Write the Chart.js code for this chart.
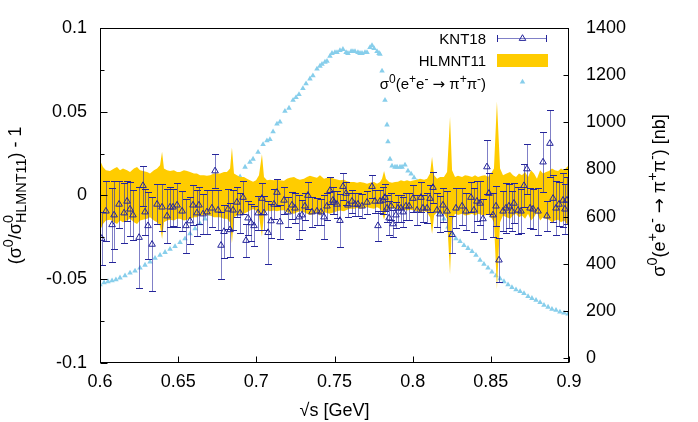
<!DOCTYPE html>
<html><head><meta charset="utf-8">
<script src="https://cdn.jsdelivr.net/npm/chart.js@4.4.1/dist/chart.umd.min.js"></script>
<style>html,body{margin:0;padding:0;background:#fff}canvas{display:block}</style>
</head><body>
<canvas id="c" width="698" height="422"></canvas>
<script>
// ---- KNT18 ratio points ----
const kntX = [0.6011,0.6038,0.6077,0.6090,0.6122,0.6154,0.6173,0.6192,0.6211,0.6250,0.6275,0.6288,0.6307,0.6333,0.6365,0.6397,0.6429,0.6448,0.6467,0.6493,0.6525,0.6550,0.6576,0.6595,0.6620,0.6633,0.6659,0.6684,0.6716,0.6736,0.6755,0.6774,0.6793,0.6819,0.6832,0.6851,0.6876,0.6896,0.6915,0.6934,0.6947,0.6966,0.6985,0.7011,0.7036,0.7049,0.7075,0.7094,0.7113,0.7132,0.7151,0.7177,0.7203,0.7228,0.7247,0.7273,0.7292,0.7311,0.7330,0.7356,0.7388,0.7414,0.7433,0.7452,0.7471,0.7490,0.7497,0.7516,0.7535,0.7554,0.7574,0.7586,0.7612,0.7631,0.7650,0.7676,0.7708,0.7740,0.7759,0.7778,0.7791,0.7810,0.7823,0.7836,0.7849,0.7862,0.7874,0.7893,0.7906,0.7925,0.7938,0.7957,0.7977,0.8002,0.8028,0.8053,0.8066,0.8092,0.8111,0.8130,0.8156,0.8175,0.8194,0.8220,0.8252,0.8277,0.8316,0.8341,0.8373,0.8392,0.8411,0.8431,0.8450,0.8475,0.8488,0.8514,0.8533,0.8552,0.8578,0.8597,0.8616,0.8635,0.8648,0.8674,0.8693,0.8712,0.8731,0.8751,0.8770,0.8802,0.8834,0.8859,0.8878,0.8898,0.8917,0.8936,0.8962,0.8974,0.8987];
const kntY = [-0.0257,-0.0094,-0.0175,-0.0117,-0.0053,-0.0105,-0.0035,-0.0082,-0.0117,-0.0251,0.0058,-0.0099,-0.0181,-0.0292,-0.0053,-0.0070,-0.0123,-0.0070,-0.0070,-0.0058,-0.0094,-0.0181,-0.0152,-0.0058,-0.0105,-0.0058,-0.0111,-0.0099,-0.0076,0.0146,-0.0088,-0.0298,-0.0216,-0.0082,-0.0205,-0.0088,-0.0041,-0.0105,-0.0012,-0.0269,-0.0135,-0.0164,-0.0181,-0.0105,-0.0018,-0.0105,-0.0222,-0.0152,-0.0053,0.0018,-0.0158,-0.0029,-0.0099,-0.0058,-0.0076,-0.0129,-0.0117,-0.0064,0.0000,-0.0099,-0.0094,-0.0099,-0.0129,-0.0064,0.0029,-0.0029,-0.0041,-0.0053,-0.0150,0.0053,0.0012,-0.0058,-0.0035,-0.0053,-0.0053,-0.0064,-0.0041,0.0053,-0.0035,-0.0181,-0.0035,-0.0029,-0.0012,-0.0076,-0.0135,-0.0064,-0.0170,-0.0117,-0.0076,-0.0076,-0.0099,-0.0064,-0.0064,-0.0018,-0.0088,-0.0012,-0.0076,-0.0076,-0.0018,0.0047,-0.0088,-0.0111,-0.0058,-0.0094,-0.0234,-0.0076,-0.0064,-0.0094,-0.0012,-0.0088,-0.0035,-0.0047,-0.0140,0.0170,0.0012,-0.0117,-0.0064,-0.0386,-0.0094,-0.0076,-0.0064,-0.0094,-0.0047,-0.0088,-0.0094,0.0058,0.0158,-0.0076,-0.0082,-0.0094,0.0199,-0.0123,0.0310,-0.0018,-0.0076,-0.0053,-0.0029,-0.0082,-0.0029];
const kntErr = [0.016,0.018,0.022,0.020,0.014,0.018,0.012,0.016,0.015,0.030,0.012,0.014,0.020,0.028,0.012,0.014,0.016,0.012,0.011,0.013,0.012,0.016,0.014,0.012,0.014,0.011,0.012,0.013,0.011,0.010,0.012,0.020,0.016,0.012,0.016,0.012,0.009,0.012,0.010,0.010,0.010,0.011,0.012,0.010,0.009,0.010,0.019,0.010,0.009,0.008,0.010,0.008,0.009,0.008,0.009,0.013,0.009,0.008,0.008,0.009,0.008,0.008,0.013,0.008,0.008,0.008,0.007,0.008,0.016,0.008,0.007,0.007,0.007,0.007,0.007,0.007,0.007,0.007,0.007,0.009,0.007,0.008,0.008,0.008,0.010,0.008,0.008,0.008,0.008,0.008,0.009,0.008,0.008,0.008,0.009,0.009,0.008,0.009,0.008,0.009,0.010,0.011,0.010,0.012,0.011,0.012,0.011,0.011,0.009,0.013,0.012,0.013,0.012,0.016,0.012,0.013,0.012,0.013,0.012,0.015,0.013,0.012,0.012,0.014,0.013,0.013,0.015,0.012,0.012,0.014,0.018,0.009,0.020,0.014,0.016,0.013,0.016,0.015,0.014];

// ---- HLMNT11 relative error band ----
const hlmX = [0.6000,0.6019,0.6038,0.6064,0.6090,0.6109,0.6128,0.6147,0.6173,0.6192,0.6217,0.6237,0.6256,0.6275,0.6301,0.6320,0.6345,0.6365,0.6384,0.6397,0.6409,0.6429,0.6448,0.6473,0.6493,0.6512,0.6537,0.6557,0.6576,0.6601,0.6620,0.6640,0.6665,0.6684,0.6704,0.6729,0.6748,0.6768,0.6793,0.6812,0.6832,0.6844,0.6857,0.6876,0.6896,0.6921,0.6940,0.6959,0.6979,0.6998,0.7017,0.7036,0.7049,0.7068,0.7087,0.7113,0.7132,0.7151,0.7177,0.7196,0.7215,0.7241,0.7260,0.7279,0.7305,0.7324,0.7343,0.7369,0.7388,0.7407,0.7433,0.7452,0.7471,0.7497,0.7516,0.7535,0.7561,0.7580,0.7599,0.7625,0.7644,0.7663,0.7689,0.7708,0.7727,0.7753,0.7772,0.7791,0.7804,0.7817,0.7829,0.7849,0.7868,0.7887,0.7906,0.7925,0.7945,0.7964,0.7983,0.8009,0.8028,0.8047,0.8073,0.8092,0.8111,0.8124,0.8137,0.8156,0.8175,0.8200,0.8220,0.8239,0.8252,0.8271,0.8290,0.8316,0.8335,0.8354,0.8380,0.8399,0.8418,0.8443,0.8463,0.8482,0.8501,0.8520,0.8539,0.8559,0.8578,0.8597,0.8623,0.8642,0.8661,0.8680,0.8699,0.8719,0.8738,0.8757,0.8776,0.8795,0.8815,0.8834,0.8853,0.8872,0.8891,0.8910,0.8930,0.8949,0.8968,0.8987,0.9000];
const hlmErr = [0.021,0.017,0.015,0.0146,0.016,0.017,0.015,0.016,0.015,0.014,0.016,0.017,0.015,0.0146,0.014,0.013,0.015,0.016,0.018,0.026,0.016,0.015,0.0146,0.015,0.014,0.014,0.015,0.0146,0.014,0.013,0.013,0.012,0.012,0.0117,0.012,0.013,0.013,0.013,0.014,0.014,0.016,0.0286,0.013,0.012,0.011,0.011,0.010,0.009,0.0082,0.009,0.012,0.0246,0.011,0.009,0.0094,0.009,0.0095,0.009,0.0088,0.010,0.0105,0.011,0.010,0.0094,0.010,0.011,0.0117,0.011,0.0105,0.012,0.010,0.0105,0.011,0.010,0.0095,0.009,0.0094,0.0085,0.008,0.008,0.0075,0.008,0.0075,0.007,0.0075,0.008,0.007,0.008,0.010,0.0146,0.010,0.008,0.0075,0.008,0.0082,0.009,0.0085,0.009,0.0085,0.009,0.0094,0.010,0.0094,0.010,0.013,0.023,0.012,0.010,0.011,0.011,0.014,0.047,0.015,0.011,0.0117,0.011,0.012,0.0117,0.011,0.012,0.011,0.0117,0.012,0.011,0.013,0.016,0.056,0.016,0.012,0.0129,0.014,0.012,0.011,0.013,0.012,0.014,0.011,0.015,0.013,0.010,0.015,0.013,0.014,0.0146,0.016,0.015,0.0146,0.016,0.015,0.017,0.018];

// ---- sigma0(e+e- -> pi+pi-) [nb], right axis ----
const sigX = [0.6000,0.6026,0.6051,0.6077,0.6102,0.6128,0.6160,0.6192,0.6224,0.6256,0.6288,0.6320,0.6352,0.6384,0.6416,0.6448,0.6480,0.6512,0.6544,0.6576,0.6608,0.6640,0.6672,0.6704,0.6736,0.6768,0.6800,0.6832,0.6864,0.6896,0.6928,0.6959,0.6979,0.7011,0.7043,0.7068,0.7087,0.7107,0.7132,0.7151,0.7183,0.7209,0.7235,0.7254,0.7273,0.7298,0.7318,0.7343,0.7362,0.7388,0.7407,0.7420,0.7439,0.7452,0.7471,0.7484,0.7503,0.7516,0.7535,0.7554,0.7574,0.7586,0.7606,0.7618,0.7631,0.7650,0.7663,0.7676,0.7695,0.7708,0.7727,0.7740,0.7753,0.7772,0.7785,0.7791,0.7804,0.7823,0.7836,0.7842,0.7855,0.7868,0.7887,0.7900,0.7919,0.7932,0.7951,0.7970,0.7990,0.8009,0.8028,0.8047,0.8073,0.8098,0.8124,0.8149,0.8175,0.8200,0.8226,0.8252,0.8277,0.8303,0.8328,0.8354,0.8380,0.8405,0.8431,0.8456,0.8482,0.8507,0.8533,0.8559,0.8584,0.8610,0.8635,0.8661,0.8687,0.8712,0.8738,0.8763,0.8789,0.8815,0.8840,0.8866,0.8891,0.8917,0.8942,0.8968,0.8994];
const sigY = [312,320,325,329,333,341,350,362,370,383,395,408,424,437,449,462,474,491,507,528,549,570,590,611,636,661,686,715,740,769,810,831,844,873,906,922,927,960,993,1001,1047,1060,1093,1105,1118,1143,1163,1184,1197,1226,1238,1246,1255,1259,1280,1292,1296,1296,1304,1309,1296,1292,1300,1300,1300,1296,1292,1292,1296,1296,1317,1325,1313,1300,1292,1288,1217,1093,989,918,844,815,810,810,810,810,819,794,781,765,748,732,711,690,665,640,615,590,557,528,507,495,478,466,453,437,416,399,383,366,350,337,325,312,300,291,283,275,262,254,246,237,225,217,208,204,196,192,188];

// ---- ticks ----
const xTickVals = [0.6,0.65,0.7,0.75,0.8,0.85,0.9];
const xTickLabels = ['0.6','0.65','0.7','0.75','0.8','0.85','0.9'];
const yTickVals = [-0.1,-0.05,0,0.05,0.1];
const yTickLabels = ['-0.1','-0.05','0','0.05','0.1'];
const yMinorVals = [-0.075,-0.025,0.025,0.075];
const y2TickVals = [0,200,400,600,800,1000,1200,1400];
const y2TickLabels = ['0','200','400','600','800','1000','1200','1400'];

const FONT = '"Liberation Sans", Arial, Helvetica, sans-serif';
const AFONT = '"DejaVu Sans", sans-serif';
const GOLD = '#FFCC00', SKY = '#87CEEB', NAVY = '#25259a', BARC = 'rgba(50,50,165,0.62)';

function fontFor(m, fs) {
  const sfs = fs * 0.8;
  if (m === 'a') return fs + 'px ' + AFONT;
  return (m === 'n' ? fs : sfs) + 'px ' + FONT;
}
function drawRich(ctx, parts, x, y, rot, fs, align) {
  // parts: [text, mode] mode: 'n','a'(arrow font),'sup','sub','supk' (sup without advance)
  let w = 0;
  const widths = parts.map(p => { ctx.font = fontFor(p[1], fs); return ctx.measureText(p[0]).width; });
  parts.forEach((p, i) => { if (p[1] !== 'supk') w += widths[i]; });
  ctx.save();
  ctx.translate(x, y);
  ctx.rotate(rot);
  let cx = align === 'right' ? -w : (align === 'center' ? -w / 2 : 0);
  ctx.fillStyle = '#000';
  ctx.textBaseline = 'alphabetic';
  ctx.textAlign = 'left';
  parts.forEach((p, i) => {
    const m = p[1];
    ctx.font = fontFor(m, fs);
    let dy = 0;
    if (m === 'sup' || m === 'supk') dy = -fs * 0.42;
    if (m === 'sub') dy = fs * 0.25;
    ctx.fillText(p[0], cx, dy);
    if (m !== 'supk') cx += widths[i];
  });
  ctx.restore();
}

function tri(ctx, x, y, r, fill, stroke) {
  ctx.beginPath();
  ctx.moveTo(x, y - r);
  ctx.lineTo(x + r * 0.866, y + r * 0.5);
  ctx.lineTo(x - r * 0.866, y + r * 0.5);
  ctx.closePath();
  if (fill) { ctx.fillStyle = fill; ctx.fill(); }
  if (stroke) { ctx.strokeStyle = stroke; ctx.lineWidth = 1; ctx.stroke(); }
}

const decor = {
  id: 'decor',
  beforeDatasetDraw(chart, args) {
    if (args.index !== 0) return;
    const ctx = chart.ctx, xs = chart.scales.x, ys = chart.scales.y, ca = chart.chartArea;
    ctx.save();
    ctx.beginPath(); ctx.rect(ca.left, ca.top, ca.right - ca.left, ca.bottom - ca.top); ctx.clip();
    ctx.lineWidth = 1;
    for (let i = 0; i < kntX.length; i++) {
      const px = Math.round(xs.getPixelForValue(kntX[i])) + 0.5;
      const y1 = Math.round(ys.getPixelForValue(kntY[i] + kntErr[i])) + 0.5;
      const y2 = Math.round(ys.getPixelForValue(kntY[i] - kntErr[i])) + 0.5;
      ctx.strokeStyle = BARC;
      ctx.beginPath(); ctx.moveTo(px, y1); ctx.lineTo(px, y2); ctx.stroke();
      ctx.strokeStyle = NAVY;
      ctx.beginPath();
      ctx.moveTo(px - 3.5, y1); ctx.lineTo(px + 3.5, y1);
      ctx.moveTo(px - 3.5, y2); ctx.lineTo(px + 3.5, y2);
      ctx.stroke();
    }
    ctx.restore();
  },
  afterDraw(chart) {
    const ctx = chart.ctx, ca = chart.chartArea;
    const xs = chart.scales.x, ys = chart.scales.y, y2s = chart.scales.y2;
    ctx.save();
    ctx.strokeStyle = '#000'; ctx.lineWidth = 1;
    const L = Math.round(ca.left) + 0.5, R = Math.round(ca.right) - 0.5;
    const T = Math.round(ca.top) + 0.5, B = Math.round(ca.bottom) - 0.5;
    ctx.strokeRect(L, T, R - L, B - T);
    ctx.beginPath();
    yTickVals.forEach(v => { const p = Math.round(ys.getPixelForValue(v)) + 0.5; ctx.moveTo(L, p); ctx.lineTo(L + 7, p); });
    yMinorVals.forEach(v => { const p = Math.round(ys.getPixelForValue(v)) + 0.5; ctx.moveTo(L, p); ctx.lineTo(L + 4, p); });
    y2TickVals.forEach(v => { const p = Math.round(y2s.getPixelForValue(v)) + 0.5; ctx.moveTo(R, p); ctx.lineTo(R - 5, p); });
    xTickVals.forEach(v => { const p = Math.round(xs.getPixelForValue(v)) + 0.5; ctx.moveTo(p, B); ctx.lineTo(p, B - 6); });
    ctx.stroke();

    // axis titles
    drawRich(ctx, [['\u221As [GeV]', 'n']], (ca.left + ca.right) / 2, 416, 0, 18, 'center');
    drawRich(ctx, [['(\u03C3', 'n'], ['0', 'sup'], ['/\u03C3', 'n'], ['0', 'supk'], ['HLMNT11', 'sub'], [') - 1', 'n']],
      21, (ca.top + ca.bottom) / 2, -Math.PI / 2, 18, 'center');
    drawRich(ctx, [['\u03C3', 'n'], ['0', 'sup'], ['(e', 'n'], ['+', 'sup'], ['e', 'n'], ['-', 'sup'], [' ', 'n'], ['\u2192', 'a'], [' \u03C0', 'n'], ['+', 'sup'], ['\u03C0', 'n'], ['-', 'sup'], [') [nb]', 'n']],
      665, (ca.top + ca.bottom) / 2, -Math.PI / 2, 18, 'center');

    // legend
    drawRich(ctx, [['KNT18', 'n']], 486, 44, 0, 15, 'right');
    drawRich(ctx, [['HLMNT11', 'n']], 486, 66, 0, 15, 'right');
    drawRich(ctx, [['\u03C3', 'n'], ['0', 'sup'], ['(e', 'n'], ['+', 'sup'], ['e', 'n'], ['-', 'sup'], [' ', 'n'], ['\u2192', 'a'], [' \u03C0', 'n'], ['+', 'sup'], ['\u03C0', 'n'], ['-', 'sup'], [')', 'n']],
      486, 89, 0, 15, 'right');
    ctx.strokeStyle = BARC; ctx.lineWidth = 1;
    ctx.beginPath(); ctx.moveTo(497, 38.5); ctx.lineTo(547, 38.5); ctx.stroke();
    ctx.strokeStyle = NAVY;
    ctx.beginPath(); ctx.moveTo(497.5, 35); ctx.lineTo(497.5, 42); ctx.moveTo(546.5, 35); ctx.lineTo(546.5, 42); ctx.stroke();
    tri(ctx, 522.5, 38.5, 3.8, null, NAVY);
    ctx.fillStyle = GOLD; ctx.fillRect(497, 54, 51, 13);
    tri(ctx, 522.5, 82, 3.2, SKY, null);
    ctx.restore();
  }
};

const chart = new Chart(document.getElementById('c'), {
  type: 'scatter',
  data: {
    datasets: [
      { label: 'KNT18', data: kntX.map((x, i) => ({ x, y: kntY[i] })), yAxisID: 'y',
        pointStyle: 'triangle', pointRadius: 3.8, borderColor: NAVY, backgroundColor: 'rgba(0,0,0,0)', borderWidth: 1, order: 0 },
      { label: 'HLMNT11', type: 'line', data: hlmX.map((x, i) => ({ x, y: hlmErr[i] })), yAxisID: 'y',
        borderWidth: 0, pointRadius: 0, tension: 0, backgroundColor: GOLD, borderColor: 'rgba(0,0,0,0)', fill: '+1', order: 1 },
      { label: 'HLMNT11 low', type: 'line', data: hlmX.map((x, i) => ({ x, y: -hlmErr[i] })), yAxisID: 'y',
        borderWidth: 0, pointRadius: 0, tension: 0, borderColor: 'rgba(0,0,0,0)', fill: false, order: 2 },
      { label: 'sigma', data: sigX.map((x, i) => ({ x, y: sigY[i] })), yAxisID: 'y2',
        pointStyle: 'triangle', pointRadius: 3.2, backgroundColor: SKY, borderColor: SKY, borderWidth: 0, order: 3 }
    ]
  },
  options: {
    responsive: false, animation: false, devicePixelRatio: 1,
    layout: { padding: { top: 21, left: 0, right: 0, bottom: 0 } },
    plugins: { legend: { display: false }, tooltip: { enabled: false } },
    scales: {
      x: { type: 'linear', min: 0.6, max: 0.9,
        afterBuildTicks: s => { s.ticks = xTickVals.map(v => ({ value: v })); },
        afterFit: s => { s.height = 59; },
        grid: { display: false, drawTicks: false }, border: { display: false },
        ticks: { color: '#000', font: { family: FONT, size: 18 }, padding: 8, maxRotation: 0, autoSkip: false,
          callback: (v, i) => xTickLabels[i] } },
      y: { position: 'left', min: -0.1, max: 0.1,
        afterBuildTicks: s => { s.ticks = yTickVals.map(v => ({ value: v })); },
        afterFit: s => { s.width = 100; },
        grid: { display: false, drawTicks: false }, border: { display: false },
        ticks: { color: '#000', font: { family: FONT, size: 18 }, padding: 13, autoSkip: false,
          callback: (v, i) => yTickLabels[i] } },
      y2: { position: 'right', min: -20, max: 1400,
        afterBuildTicks: s => { s.ticks = y2TickVals.map(v => ({ value: v })); },
        afterFit: s => { s.width = 129; },
        grid: { display: false, drawTicks: false }, border: { display: false },
        ticks: { color: '#000', font: { family: FONT, size: 18 }, padding: 17, autoSkip: false,
          callback: (v, i) => y2TickLabels[i] } }
    }
  },
  plugins: [decor]
});
</script>
</body></html>
